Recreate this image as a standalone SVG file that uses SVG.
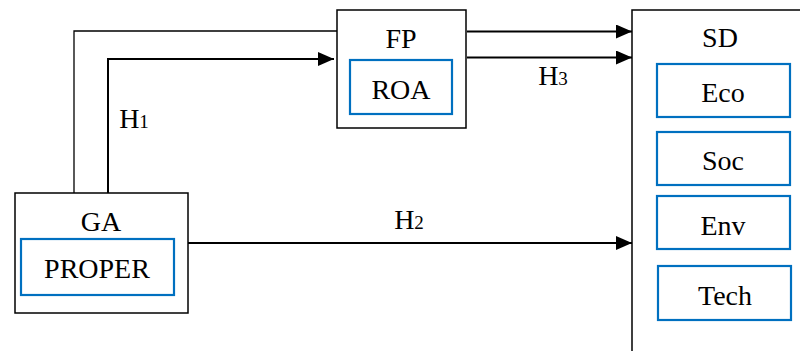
<svg xmlns="http://www.w3.org/2000/svg" width="800" height="351" viewBox="0 0 800 351">
<style>
.outer{fill:#fff;stroke:#000;stroke-width:1.5}
.inner{fill:none;stroke:#0070c0;stroke-width:2.2}
.t{font-family:"Liberation Serif",serif;font-size:28px;fill:#000;text-anchor:middle}
.sub{font-size:19px}
.c{fill:none;stroke:#000}
</style>
<defs>
<marker id="ah" markerWidth="16" markerHeight="14" refX="16" refY="7" orient="auto" markerUnits="userSpaceOnUse">
<path d="M0,0 L16,7 L0,14 Z" fill="#000"/>
</marker>
</defs>
<g id="connectors">
<polyline class="c" stroke-width="1.3" points="74,197 74,31 337,31"/>
<polyline class="c" stroke-width="2" points="108,193 108,59 334,59" marker-end="url(#ah)"/>
<line class="c" stroke-width="2" x1="467" y1="31.5" x2="632" y2="31.5" marker-end="url(#ah)"/>
<line class="c" stroke-width="2" x1="467" y1="57.5" x2="632" y2="57.5" marker-end="url(#ah)"/>
<line class="c" stroke-width="2" x1="188" y1="243" x2="632" y2="243" marker-end="url(#ah)"/>
<text class="t" x="134" y="128">H<tspan class="sub">1</tspan></text>
<text class="t" x="553" y="85">H<tspan class="sub">3</tspan></text>
<text class="t" x="409" y="229">H<tspan class="sub">2</tspan></text>
</g>
<g id="GA">
<rect class="outer" x="15" y="193" width="173" height="120"/>
<text class="t" x="101" y="231">GA</text>
</g>
<g id="PROPER">
<rect class="inner" x="21" y="239" width="153" height="56"/>
<text class="t" x="97" y="278">PROPER</text>
</g>
<g id="FP">
<rect class="outer" x="337" y="10" width="129" height="118"/>
<text class="t" x="401" y="48">FP</text>
</g>
<g id="ROA">
<rect class="inner" x="350" y="60" width="102" height="54"/>
<text class="t" x="401" y="99">ROA</text>
</g>
<g id="SD">
<rect class="outer" x="632" y="10" width="180" height="360"/>
<text class="t" x="720" y="47">SD</text>
</g>
<g id="Eco">
<rect class="inner" x="657" y="64" width="133" height="53"/>
<text class="t" x="723" y="102">Eco</text>
</g>
<g id="Soc">
<rect class="inner" x="657" y="132" width="133" height="53"/>
<text class="t" x="723" y="170">Soc</text>
</g>
<g id="Env">
<rect class="inner" x="657" y="196" width="133" height="53"/>
<text class="t" x="723" y="235">Env</text>
</g>
<g id="Tech">
<rect class="inner" x="658" y="266" width="133" height="54"/>
<text class="t" x="725" y="305">Tech</text>
</g>
</svg>
